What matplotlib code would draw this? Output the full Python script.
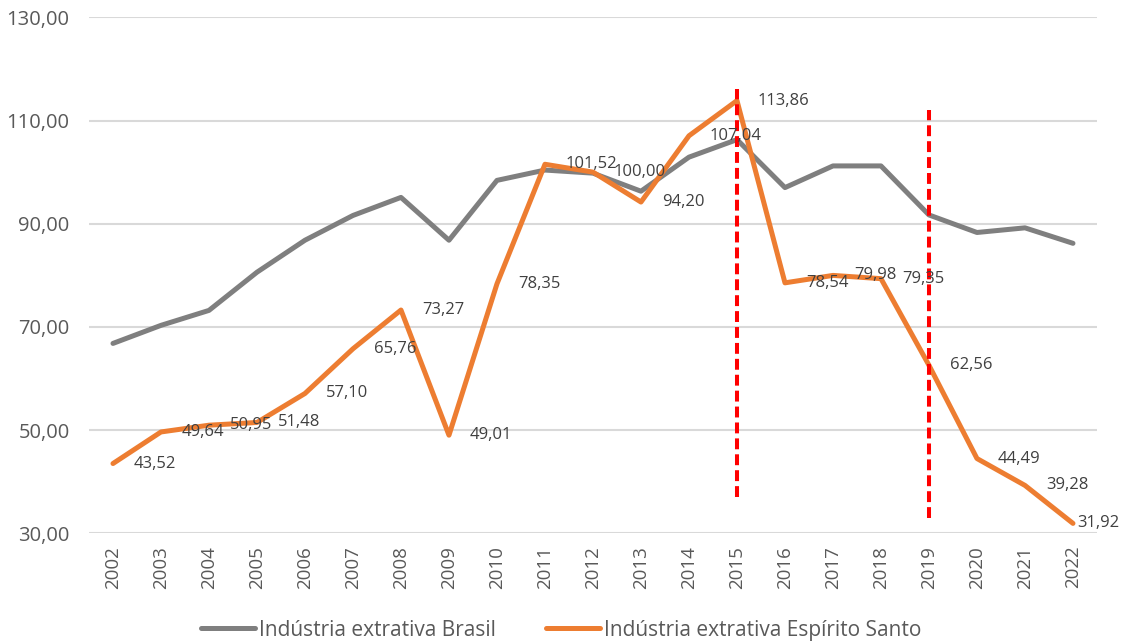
import matplotlib.pyplot as plt

# dados
anos = [str(a) for a in range(2002, 2023)]
brasil = [66.8, 70.3, 73.2, 80.6, 86.8, 91.6, 95.1, 86.8, 98.4, 100.4, 99.8,
          96.3, 102.9, 106.3, 97.0, 101.2, 101.2, 91.7, 88.3, 89.2, 86.2]
espirito_santo = [43.52, 49.64, 50.95, 51.48, 57.10, 65.76, 73.27, 49.01, 78.35,
                  101.52, 100.00, 94.20, 107.04, 113.86, 78.54, 79.98, 79.35,
                  62.56, 44.49, 39.28, 31.92]
nome_br = 'Indústria extrativa Brasil'
nome_es = 'Indústria extrativa Espírito Santo'

# linhas vermelhas tracejadas (ano, y inicial, y final)
marcos = [('2015', 37.0, 116.2), ('2019', 33.0, 112.1)]

yticks = [30, 50, 70, 90, 110, 130]

plt.rcParams['font.family'] = ['Open Sans', 'DejaVu Sans']

fig = plt.figure(figsize=(11.22, 6.44), dpi=100)
ax = fig.add_axes([0.0793, 0.1719, 0.8984, 0.8012])

x = list(range(len(anos)))
ax.plot(x, brasil, color='#7F7F7F', lw=3.6, label=nome_br, solid_joinstyle='round',
        solid_capstyle='round', zorder=3)
ax.plot(x, espirito_santo, color='#ED7D31', lw=3.6, label=nome_es,
        solid_joinstyle='round', solid_capstyle='round', zorder=4)

# rótulos à direita dos pontos; o último fica encostado (como no Excel)
for i, (xi, v) in enumerate(zip(x, espirito_santo)):
    dx = 3 if i == len(x) - 1 else 15
    ax.annotate(f'{v:.2f}'.replace('.', ','), (xi, v), xytext=(dx, 0),
                textcoords='offset points', ha='left', va='center',
                fontsize=12, color='#404040', zorder=6, annotation_clip=False)

for ano, y0, y1 in marcos:
    xi = anos.index(ano)
    ax.plot([xi, xi], [y0, y1], color='#FF0000', lw=2.9, ls=(0, (2.7, 1.25)),
            solid_capstyle='butt', zorder=5)

ax.set_xlim(-0.5, len(anos) - 0.5)
ax.set_ylim(30, 130)
ax.set_yticks(yticks)
ax.set_yticklabels([f'{t:.2f}'.replace('.', ',') for t in yticks])
ax.set_xticks(x)
ax.set_xticklabels(anos, rotation=90)
ax.tick_params(axis='both', length=0, labelsize=13.5, labelcolor='#595959')
ax.tick_params(axis='y', labelsize=14.5, pad=14)
ax.tick_params(axis='x', pad=9)
ax.grid(axis='y', color='#D9D9D9', lw=1.5)
ax.set_axisbelow(True)
for s in ax.spines.values():
    s.set_visible(False)

fig.legend(loc='lower center', bbox_to_anchor=(0.5, -0.024), ncol=2, frameon=False,
           fontsize=15, handlelength=2.6, handletextpad=0.2, columnspacing=2.4,
           labelcolor='#595959')

fig.savefig('out.png', dpi=100)
